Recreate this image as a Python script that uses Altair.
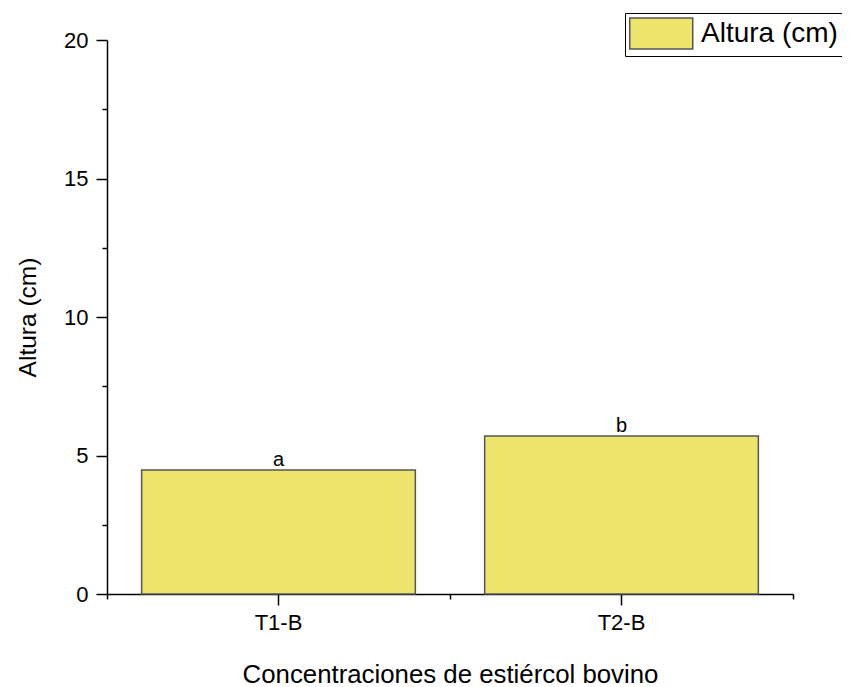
import altair as alt
import pandas as pd

tratamientos = ["T1-B", "T2-B"]
altura = [4.48, 5.70]
letras = ["a", "b"]
serie = ["Altura (cm)", "Altura (cm)"]
y_ticks = [0, 2.5, 5, 7.5, 10, 12.5, 15, 17.5, 20]

df = pd.DataFrame({"trat": tratamientos, "altura": altura, "letra": letras, "serie": serie})

FONT = "Liberation Sans"

x_scale = alt.Scale(paddingInner=0, paddingOuter=0)
y_scale = alt.Scale(domain=[0, 20])

y_axis = alt.Axis(
    values=y_ticks,
    tickSize={"condition": {"test": "datum.value % 5 === 0", "value": 11}, "value": 5},
    labelExpr="datum.value % 5 === 0 ? datum.label : ''",
    labelFontSize=22, labelFont=FONT, labelColor="black", labelPadding=8,
    labelFlush=False,
    domainColor="black", domainWidth=1.5, tickColor="black", tickWidth=1.5,
    grid=False,
    title="Altura (cm)", titleFont=FONT, titleFontSize=24.5, titleFontWeight="normal",
    titleColor="black", titleX=-72, titleBaseline="alphabetic",
)

x_axis_main = alt.Axis(
    orient="bottom",
    labelAngle=0, labelFontSize=22, labelFont=FONT, labelColor="black", labelPadding=7,
    domainColor="black", domainWidth=1.5, tickColor="black", tickWidth=1.5, tickSize=11,
    grid=False,
    title="Concentraciones de estiércol bovino", titleFont=FONT, titleFontSize=25.8,
    titleFontWeight="normal", titleColor="black", titleY=88, titleBaseline="alphabetic",
)

x_axis_minor = alt.Axis(
    orient="bottom", tickBand="extent", labels=False, title=None,
    domain=False, tickColor="black", tickWidth=1.5, tickSize=5, grid=False,
)

bars = alt.Chart(df).mark_bar(
    stroke="#555555", strokeWidth=1.5, opacity=1, width=alt.RelativeBandSize(0.798)
).encode(
    x=alt.X("trat:N", scale=x_scale, axis=x_axis_main, sort=tratamientos),
    y=alt.Y("altura:Q", scale=y_scale, axis=y_axis),
    color=alt.Color(
        "serie:N",
        scale=alt.Scale(domain=["Altura (cm)"], range=["#ECE46D"]),
        legend=alt.Legend(
            title=None, orient="none", legendX=518, legendY=-27,
            strokeColor="black", fillColor="white", padding=4,
            symbolType="M-1,-0.98H3V0.98H-1Z", symbolSize=992,
            symbolStrokeColor="#555555", symbolStrokeWidth=1.5, symbolOpacity=1,
            labelFont=FONT, labelFontSize=28, labelColor="black", labelOffset=39,
        ),
    ),
)

text = alt.Chart(df).mark_text(
    dy=-4, baseline="alphabetic", fontSize=20, font=FONT, color="black"
).encode(
    x=alt.X("trat:N", scale=x_scale, axis=x_axis_minor, sort=tratamientos),
    y=alt.Y("altura:Q", scale=y_scale),
    text="letra:N",
)

chart = (
    alt.layer(bars, text)
    .resolve_axis(x="independent")
    .properties(
        width=686, height=554,
        autosize=alt.AutoSizeParams(type="none"),
        padding={"left": 99, "top": 32, "right": 49, "bottom": 92},
        background="white",
    )
    .configure_view(stroke=None)
)

chart.save("out.html", embed_options={"renderer": "svg", "actions": False})
